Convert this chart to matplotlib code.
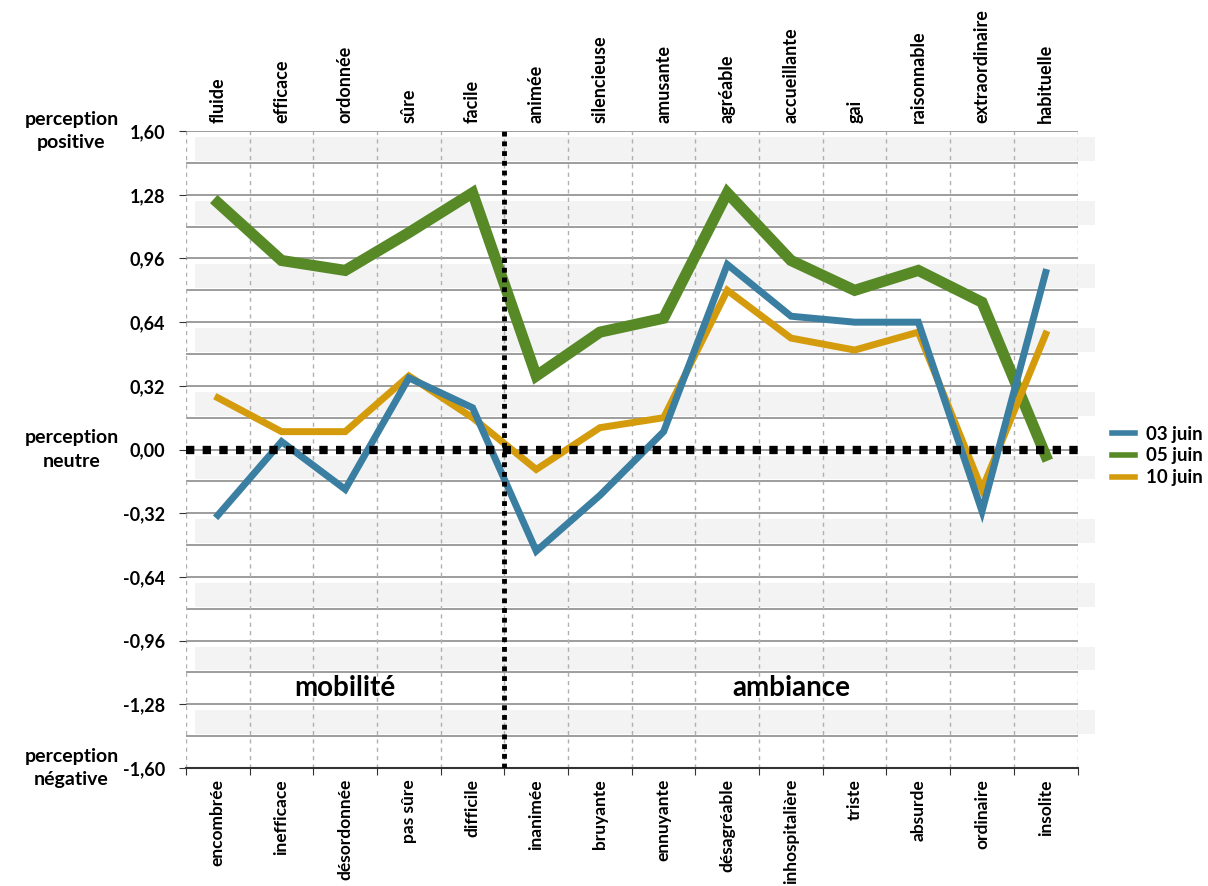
import matplotlib.pyplot as plt
import numpy as np

plt.rcParams['font.family'] = ['Lato', 'DejaVu Sans']
plt.rcParams['font.weight'] = 'bold'

top_labels = ["fluide", "efficace", "ordonnée", "sûre", "facile", "animée", "silencieuse",
              "amusante", "agréable", "accueillante", "gai", "raisonnable", "extraordinaire", "habituelle"]
bottom_labels = ["encombrée", "inefficace", "désordonnée", "pas sûre", "difficile", "inanimée", "bruyante",
                 "ennuyante", "désagréable", "inhospitalière", "triste", "absurde", "ordinaire", "insolite"]

juin03 = [-0.33, 0.04, -0.20, 0.36, 0.21, -0.51, -0.23, 0.09, 0.93, 0.67, 0.64, 0.64, -0.31, 0.89]
juin05 = [1.24, 0.95, 0.90, 1.09, 1.29, 0.37, 0.59, 0.66, 1.29, 0.95, 0.80, 0.90, 0.74, -0.03]
juin10 = [0.26, 0.09, 0.09, 0.37, 0.16, -0.10, 0.11, 0.16, 0.80, 0.56, 0.50, 0.59, -0.20, 0.58]

yticks = [1.60, 1.28, 0.96, 0.64, 0.32, 0.00, -0.32, -0.64, -0.96, -1.28, -1.60]

fig = plt.figure(figsize=(12.08, 8.86), dpi=100)
ax = fig.add_axes([0.154, 0.1332, 0.738, 0.7188])

x = np.arange(len(top_labels)) + 0.5

# shaded bands just below each major tick
for t in yticks[:-1]:
    ax.axhspan(t - 0.15, t - 0.03, xmin=0.01, xmax=1.02, color='#f3f3f3', zorder=0, clip_on=False, lw=0)

# horizontal grid every 0.16
for g in np.arange(-1.6, 1.61, 0.16):
    ax.axhline(g, color='#8c8c8c', lw=1.2, zorder=1)
# vertical dotted grid
for b in range(0, 15):
    ax.axvline(b, color='#b0b0b0', lw=1, ls=(0, (3, 3)), zorder=1)

ax.plot(x, juin03, color='#3a7fa1', lw=5, label='03 juin', zorder=4, solid_joinstyle='miter')
ax.plot(x, juin05, color='#578a27', lw=8, label='05 juin', zorder=3, solid_joinstyle='miter')
ax.plot(x, juin10, color='#d49b0c', lw=5, label='10 juin', zorder=3, solid_joinstyle='miter')

ax.axhline(0, color='black', lw=6, ls=(0, (1, 1)), zorder=5)
ax.axvline(5, color='black', lw=3.5, ls=(0, (1, 1)), zorder=5)

ax.set_xlim(0, 14)
ax.set_ylim(-1.6, 1.6)
ax.set_yticks(yticks, [f"{t:.2f}".replace('.', ',') for t in yticks], fontsize=13, fontweight='bold')
ax.tick_params(axis='y', length=5, color='#333333', pad=10)

ax.set_xticks(range(15))
ax.set_xticklabels([])
ax.set_xticks(x, minor=True)
ax.set_xticklabels(bottom_labels, minor=True, rotation=90, fontsize=12.5, fontweight='bold')
ax.tick_params(axis='x', which='major', length=5, color='#333333')
ax.tick_params(axis='x', which='minor', length=0, pad=8)

sec = ax.secondary_xaxis('top')
sec.set_xticks(x, top_labels, rotation=90, fontsize=13, fontweight='bold')
sec.tick_params(length=0, pad=6)
sec.spines['top'].set_visible(False)

for s in ['top', 'left', 'right']:
    ax.spines[s].set_visible(False)
ax.spines['bottom'].set_color('#333333')
ax.spines['bottom'].set_linewidth(1.5)

for yv, txt in [(1.6, "perception\npositive"), (0.0, "perception\nneutre"), (-1.6, "perception\nnégative")]:
    ax.text(-1.8, yv, txt, ha='center', va='center', fontsize=14, fontweight='bold', linespacing=1.45)

ax.text(2.5, -1.2, "mobilité", ha='center', va='center', fontsize=20, fontweight='bold')
ax.text(9.5, -1.2, "ambiance", ha='center', va='center', fontsize=20, fontweight='bold')

leg = ax.legend(loc='center left', bbox_to_anchor=(1.02, 0.49), frameon=False, fontsize=13.5,
                handlelength=1.2, handletextpad=0.6, labelspacing=0.25)
for h in leg.get_lines():
    h.set_linewidth(4)

fig.savefig("out.png", dpi=100)
